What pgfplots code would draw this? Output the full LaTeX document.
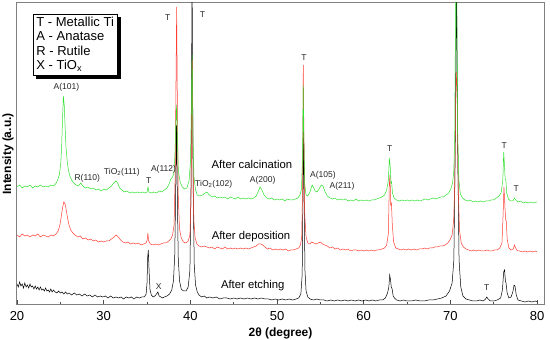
\documentclass[border=0pt]{standalone}
\usepackage{pgfplots}
\pgfplotsset{compat=1.18}
\usepackage{fontspec}
\setmainfont{Liberation Sans}
\definecolor{cgreen}{RGB}{45,225,45}
\definecolor{cred}{RGB}{255,60,50}
\newsavebox\legbox
\begin{document}
\sbox\legbox{\fontsize{13}{14.4}\selectfont\begin{tabular}{@{}l@{}}T - Metallic Ti\\A - Anatase\\R - Rutile\\X - TiO\textsubscript{x}\end{tabular}}%
\begin{tikzpicture}
\path[use as bounding box] (0,0) rectangle (550pt,340pt);
\begin{axis}[
  at={(17pt,35pt)}, anchor=south west,
  width=527pt, height=302pt, scale only axis,
  xmin=20, xmax=80.8, ymin=0, ymax=302,
  xtick={20,30,...,80}, minor x tick num=1,
  ytick=\empty,
  xtick pos=bottom, tick align=inside,
  major tick length=5pt, minor tick length=3pt,
  every tick/.style={black!70, line width=0.6pt},
  axis line style={black!50, line width=1pt},
  /pgf/number format/assume math mode=true,
  xticklabel style={font=\fontsize{13}{15}\selectfont},
  xticklabel shift=3pt,
  xlabel={\bfseries 2θ (degree)},
  ylabel={\bfseries Intensity (a.u.)},
  xlabel style={at={(axis description cs:0.5,-0.093)}, anchor=center, font=\fontsize{12}{14}\selectfont},
  ylabel style={at={(axis description cs:-0.017,0.5)}, anchor=center, font=\fontsize{12}{14}\selectfont},
  clip mode=individual,
  every axis plot/.append style={line width=0.5pt},
]
% After etching
\addplot[black, no marks] table {
20.0 21
20.15 18
20.3 23
20.45 19
20.6 21
20.75 17
20.9 22
21.05 18
21.2 20
21.35 17
21.5 21
21.65 18
21.8 19
21.95 16
22.1 19
22.25 16
22.4 18
22.55 15
22.7 18
22.85 15
23.0 16
23.15 14
23.3 17
23.45 14
23.6 15
23.75 13
23.9 16
24.05 13
24.2 15
24.4 13
24.6 12
24.8 14
25.0 12
25.2 13
25.4 11
25.6 13
25.8 11
26.0 12
26.3 10
26.6 12
26.9 10
27.2 11
27.5 9
27.8 11
28.1 9
28.4 10
28.7 8
29.0 10
29.3 8
29.6 9
29.9 8
30.2 9
30.5 7
30.8 9
31.1 7
31.4 8
31.7 7
32.0 8
32.3 6
32.6 8
32.9 7
33.2 8
33.5 6
33.8 8
34.1 7
34.4 8
34.7 8
34.9 11
35.0 22
35.08 48
35.15 55
35.25 32
35.35 15
35.5 10
35.7 8
35.9 9
36.1 11
36.25 13
36.4 9
36.6 8
36.8 7
37.0 8
37.3 9
37.6 11
37.85 15
38.05 24
38.2 50
38.3 110
38.4 180
38.5 110
38.6 48
38.75 24
38.95 16
39.2 14
39.5 14
39.75 18
39.95 35
40.08 120
40.2 330
40.32 120
40.45 40
40.6 20
40.8 13
41.0 10
41.3 8
41.6 9
41.9 7
42.2 8
42.6 7
43.0 8
43.4 6
43.8 7
44.2 7
44.6 6
45.0 7
45.4 6
45.8 7
46.2 6
46.6 7
47.0 6
47.4 7
47.8 6
48.2 7
48.6 6
49.0 6
49.4 5
49.8 6
50.2 5
50.6 6
51.0 5
51.4 6
51.8 5
52.2 6
52.5 7
52.75 11
52.9 30
53.0 120
53.05 200
53.12 120
53.22 35
53.35 14
53.55 8
53.8 6
54.2 5
54.6 6
55.0 5
55.4 5
55.8 4
56.2 5
56.6 4
57.0 5
57.4 4
57.8 5
58.2 4
58.6 5
59.0 4
59.4 5
59.8 4
60.2 5
60.6 4
61.0 5
61.4 4
61.8 5
62.2 5
62.5 7
62.75 12
62.9 18
63.0 30
63.08 26
63.18 18
63.28 16
63.4 9
63.55 7
63.8 5
64.2 4
64.6 5
65.0 4
65.5 4
66.0 5
66.5 4
67.0 4
67.5 5
68.0 5
68.5 6
69.0 7
69.5 9
69.9 14
70.2 22
70.4 45
70.55 150
70.7 330
70.85 150
71.0 45
71.2 18
71.45 9
71.8 6
72.2 5
72.6 4
73.0 4
73.4 5
73.8 4
74.05 6
74.2 8
74.35 6
74.6 4
75.0 4
75.4 5
75.8 7
76.0 15
76.15 33
76.25 35
76.35 24
76.42 22
76.55 12
76.75 7
77.0 8
77.2 13
77.35 20
77.45 19
77.6 10
77.8 5
78.2 4
78.6 3
79.0 4
79.4 3
79.8 4
80.0 3
};
% After deposition
\addplot[cred, no marks] table {
20.0 70
20.3 68
20.6 71
20.9 69
21.2 70
21.5 68
21.8 70
22.1 69
22.4 71
22.7 68
23.0 70
23.3 69
23.6 68
23.9 70
24.2 69
24.5 71
24.75 74
24.95 80
25.1 88
25.25 97
25.4 103
25.55 101
25.7 94
25.85 86
26.0 80
26.2 75
26.45 72
26.7 70
27.0 68
27.3 69
27.6 66
27.9 67
28.2 65
28.5 66
28.8 64
29.1 65
29.4 63
29.7 64
30.0 63
30.3 64
30.6 64
30.9 66
31.2 68
31.45 70
31.7 68
31.95 65
32.2 63
32.5 62
32.8 63
33.1 61
33.4 62
33.7 61
34.0 62
34.3 60
34.6 61
34.9 62
35.02 65
35.1 72
35.18 64
35.4 61
35.7 60
36.0 61
36.3 60
36.6 61
36.9 62
37.2 62
37.5 64
37.75 66
37.95 70
38.12 80
38.25 130
38.35 230
38.42 298
38.5 200
38.6 110
38.75 76
38.95 67
39.2 63
39.5 62
39.75 64
39.95 70
40.08 110
40.16 200
40.22 245
40.3 150
40.4 85
40.55 67
40.75 61
41.0 59
41.3 58
41.6 59
41.9 58
42.2 57
42.5 58
42.8 56
43.1 58
43.4 57
43.7 56
44.0 58
44.3 56
44.6 57
44.9 56
45.2 57
45.5 56
45.8 57
46.1 56
46.4 57
46.7 56
47.0 57
47.3 58
47.6 59
47.85 61
48.1 61
48.35 60
48.6 58
48.9 56
49.2 57
49.5 55
49.8 56
50.1 55
50.4 56
50.7 55
51.0 56
51.3 54
51.6 55
51.9 55
52.2 56
52.5 57
52.7 60
52.85 68
52.95 120
53.03 240
53.1 170
53.2 90
53.35 68
53.55 62
53.8 61
54.0 63
54.25 62
54.5 61
54.75 62
55.0 63
55.25 61
55.5 60
55.8 59
56.1 57
56.4 58
56.7 56
57.0 57
57.3 55
57.6 56
57.9 55
58.2 56
58.5 54
58.8 55
59.1 55
59.4 54
59.7 55
60.0 54
60.3 55
60.6 54
60.9 55
61.2 54
61.5 55
61.8 55
62.1 56
62.4 57
62.65 60
62.85 72
62.95 120
63.03 130
63.12 100
63.2 102
63.3 80
63.45 63
63.7 57
64.0 56
64.3 55
64.6 56
64.9 55
65.2 56
65.5 55
65.8 56
66.1 55
66.4 56
66.7 56
67.0 57
67.3 56
67.6 57
67.9 57
68.2 58
68.5 58
68.8 59
69.1 59
69.4 60
69.7 62
69.95 65
70.2 70
70.38 85
70.5 120
70.6 200
70.68 233
70.78 210
70.9 120
71.05 75
71.25 62
71.5 58
71.8 56
72.1 55
72.4 54
72.7 55
73.0 54
73.3 55
73.6 54
73.9 54
74.2 55
74.5 54
74.8 54
75.1 55
75.4 55
75.7 57
75.95 62
76.08 90
76.18 118
76.28 100
76.38 85
76.45 84
76.55 66
76.75 57
77.0 55
77.25 56
77.4 60
77.52 57
77.75 54
78.0 54
78.3 53
78.6 54
78.9 53
79.2 54
79.5 53
79.8 54
80.0 53
};
% After calcination
\addplot[cgreen, no marks] table {
20.0 118
20.3 120
20.6 117
20.9 119
21.2 118
21.5 120
21.8 117
22.1 119
22.4 118
22.7 120
23.0 118
23.3 119
23.6 118
23.9 120
24.2 119
24.45 121
24.7 125
24.9 131
25.05 142
25.15 158
25.25 185
25.35 209
25.45 200
25.55 178
25.65 158
25.8 143
25.95 134
26.1 129
26.3 125
26.55 122
26.8 120
27.1 119
27.35 122
27.6 119
27.9 117
28.2 118
28.5 116
28.8 117
29.1 115
29.4 116
29.7 114
30.0 116
30.3 115
30.6 117
30.9 119
31.15 122
31.4 124
31.6 122
31.85 117
32.1 115
32.4 113
32.7 114
33.0 112
33.3 113
33.6 112
33.9 113
34.2 112
34.5 113
34.8 112
35.0 113
35.12 118
35.22 113
35.5 112
35.8 113
36.1 112
36.4 114
36.7 113
37.0 115
37.3 117
37.55 121
37.75 126
37.95 128
38.1 132
38.22 150
38.32 180
38.42 200
38.52 160
38.62 134
38.8 124
39.0 119
39.3 116
39.6 117
39.85 124
40.02 145
40.12 200
40.2 250
40.3 170
40.42 128
40.6 115
40.8 110
41.1 109
41.4 110
41.7 112
41.9 113
42.2 110
42.5 108
42.8 109
43.1 107
43.4 108
43.7 107
44.0 108
44.3 106
44.6 108
44.9 107
45.2 106
45.5 108
45.8 106
46.1 107
46.4 106
46.7 107
47.0 106
47.3 107
47.6 109
47.85 114
48.05 118
48.25 115
48.5 110
48.8 107
49.1 106
49.4 107
49.7 105
50.0 106
50.3 105
50.6 106
50.9 104
51.2 106
51.5 105
51.8 105
52.1 106
52.4 107
52.65 110
52.82 116
52.95 150
53.02 220
53.1 160
53.2 120
53.35 110
53.55 109
53.8 113
54.05 120
54.2 118
54.4 114
54.6 113
54.85 116
55.1 120
55.3 119
55.55 113
55.8 109
56.1 107
56.4 106
56.7 107
57.0 105
57.3 106
57.6 105
57.9 106
58.2 104
58.5 105
58.8 104
59.1 106
59.4 104
59.7 105
60.0 104
60.3 105
60.6 104
60.9 105
61.2 105
61.5 106
61.8 107
62.1 108
62.4 110
62.65 115
62.85 125
62.95 147
63.05 140
63.15 122
63.22 123
63.32 112
63.5 107
63.8 105
64.1 104
64.4 105
64.7 104
65.0 105
65.3 104
65.6 105
65.9 104
66.2 105
66.5 104
66.8 105
67.1 106
67.4 105
67.7 106
68.0 107
68.3 106
68.6 107
68.9 108
69.2 108
69.5 110
69.8 112
70.05 116
70.25 122
70.4 135
70.5 170
70.62 330
70.72 330
70.85 170
70.98 125
71.15 111
71.4 107
71.7 105
72.0 104
72.3 105
72.6 103
72.9 104
73.2 103
73.5 104
73.8 103
74.1 104
74.4 104
74.7 105
75.0 105
75.3 107
75.6 109
75.85 112
76.05 125
76.15 153
76.25 138
76.32 126
76.4 125
76.5 112
76.7 106
76.95 104
77.2 104
77.4 107
77.55 105
77.8 103
78.1 104
78.4 102
78.7 103
79.0 102
79.3 103
79.6 102
80.0 103
};
% peak labels
\begin{scope}[every node/.style={font=\fontsize{8.5}{10}\selectfont, text=black!85, inner sep=0pt}]
\node at (axis cs:37.4,287) {T};
\node at (axis cs:41.4,290) {T};
\node at (axis cs:53.1,247) {T};
\node at (axis cs:25.7,218) {A(101)};
\node at (axis cs:28.1,127) {R(110)};
\node at (axis cs:32.1,133) {TiO\textsubscript{2}(111)};
\node at (axis cs:35.2,124) {T};
\node at (axis cs:36.9,136) {A(112)};
\node at (axis cs:42.7,121) {TiO\textsubscript{2}(102)};
\node at (axis cs:48.35,125) {A(200)};
\node at (axis cs:55.3,130) {A(105)};
\node at (axis cs:57.5,119) {A(211)};
\node at (axis cs:63.0,156) {T};
\node at (axis cs:76.2,159) {T};
\node at (axis cs:77.6,116) {T};
\node at (axis cs:74.2,17) {T};
\node at (axis cs:36.35,18) {X};
\end{scope}
\begin{scope}[every node/.style={font=\fontsize{11.3}{13}\selectfont, text=black, inner sep=0pt}]
\node at (axis cs:47.1,141) {After calcination};
\node at (axis cs:47.0,68) {After deposition};
\node at (axis cs:47.2,19) {After etching};
\end{scope}
% legend box with shadow
\node[anchor=north west, draw=black, line width=0.8pt, fill=black,
  inner xsep=3pt, inner ysep=1.5pt, xshift=3pt, yshift=-3pt]
  at (axis description cs:0.0304,0.962) {\phantom{\usebox\legbox}};
\node[anchor=north west, draw=black, line width=0.8pt, fill=white,
  inner xsep=3pt, inner ysep=1.5pt]
  at (axis description cs:0.0304,0.962) {\usebox\legbox};
\end{axis}
\end{tikzpicture}
\end{document}
